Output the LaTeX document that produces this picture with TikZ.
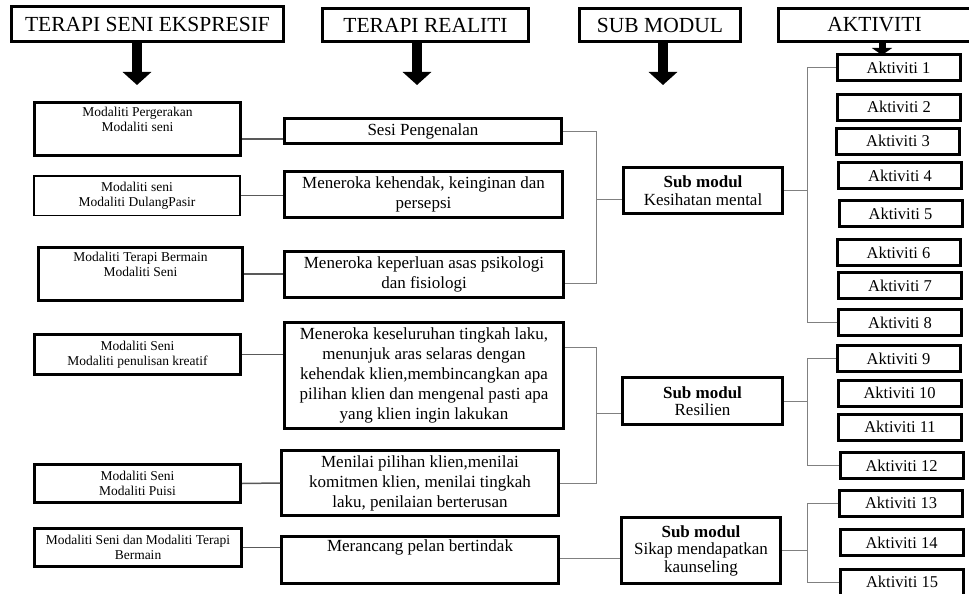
\documentclass[tikz,border=0pt]{standalone}
\usepackage{fontspec}
\setmainfont{Liberation Serif}
\usetikzlibrary{arrows.meta, positioning}
\tikzstyle{header} = [rectangle, draw=black, line width=3pt, inner sep=0pt, text centered, font=\fontsize{21.5}{24}\selectfont]
\tikzstyle{modality} = [rectangle, draw=black, line width=3pt, inner sep=2pt, align=center, minimum width=206pt, font=\fontsize{13.5}{15}\selectfont]
\tikzstyle{session} = [rectangle, draw=black, line width=3pt, inner sep=2pt, align=center, minimum width=278pt, font=\fontsize{17}{20}\selectfont]
\tikzstyle{submodule} = [rectangle, draw=black, line width=3pt, inner sep=2pt, align=center, minimum width=159pt, font=\fontsize{17}{17.5}\selectfont]
\tikzstyle{activity} = [rectangle, draw=black, line width=3pt, inner sep=0pt, minimum width=123pt, minimum height=26pt, font=\fontsize{16.5}{18}\selectfont]
\tikzstyle{bigarrow} = [line width=10pt, -{Triangle[width=28pt, length=13pt]}]
\tikzstyle{smallarrow} = [line width=7pt, -{Triangle[width=20pt, length=7pt]}]
\tikzstyle{feed} = [draw=black!65, line width=1.5pt]
\tikzstyle{branch} = [draw=black!50, line width=1pt]

\begin{document}
\begin{tikzpicture}[x=1pt, y=-1pt]
\useasboundingbox (0,0) rectangle (969,594);

% Headers
\node[header, minimum width=272pt, minimum height=35pt] (hdrA) at (147.5,24) {TERAPI SENI EKSPRESIF};
\node[header, minimum width=206pt, minimum height=33pt] (hdrB) at (425.5,25) {TERAPI REALITI};
\node[header, minimum width=161pt, minimum height=33pt] (hdrC) at (660,25) {SUB MODUL};
\node[header, minimum width=192pt, minimum height=33pt] (hdrD) at (874.5,25) {AKTIVITI};
\coordinate (tipA) at (137,85);
\coordinate (tipB) at (417,85);
\coordinate (tipC) at (663,85);
\coordinate (tipD) at (882,55);

% Modaliti
\node[modality, minimum height=53pt] (mod1) at (137.5,129) {Modaliti Pergerakan\\Modaliti seni\\ \strut};
\node[modality, minimum height=39.5pt, line width=1.5pt] (mod2) at (137,195.5) {Modaliti seni\\Modaliti DulangPasir};
\node[modality, minimum height=53pt, minimum width=204pt] (mod3) at (140.5,274) {Modaliti Terapi Bermain\\Modaliti Seni\\ \strut};
\node[modality, minimum height=40pt] (mod4) at (137.5,354.5) {Modaliti Seni\\Modaliti penulisan kreatif};
\node[modality, minimum height=38pt] (mod5) at (137.5,483.5) {Modaliti Seni\\Modaliti Puisi};
\node[modality, minimum height=38pt, minimum width=207pt] (mod6) at (138,547.5) {Modaliti Seni dan Modaliti Terapi\\Bermain};

% Sesi
\node[session, minimum height=25pt, minimum width=277pt] (ses1) at (423,131) {Sesi Pengenalan};
\node[session, minimum height=46pt] (ses2) at (423.5,194.5) {Meneroka kehendak, keinginan dan\\persepsi};
\node[session, minimum height=46pt, minimum width=279pt] (ses3) at (424,274.5) {Meneroka keperluan asas psikologi\\dan fisiologi};
\node[session, minimum height=106pt, minimum width=279pt] (ses4) at (424,375.5) {Meneroka keseluruhan tingkah laku,\\menunjuk aras selaras dengan\\kehendak klien,membincangkan apa\\pilihan klien dan mengenal pasti apa\\yang klien ingin lakukan};
\node[session, minimum height=65pt, minimum width=277pt] (ses5) at (420,483) {Menilai pilihan klien,menilai\\komitmen klien, menilai tingkah\\laku, penilaian berterusan};
\node[session, minimum height=47pt, minimum width=277pt] (ses6) at (420,560) {Merancang pelan bertindak\\[2pt]\strut};

% Sub modul
\node[submodule, minimum height=46pt] (sub1) at (703,190.5) {\textbf{Sub modul}\\Kesihatan mental};
\node[submodule, minimum height=47pt, minimum width=160pt] (sub2) at (702.5,401) {\textbf{Sub modul}\\Resilien};
\node[submodule, minimum height=66pt] (sub3) at (701,550.5) {\textbf{Sub modul}\\Sikap mendapatkan\\kaunseling};
\coordinate (jA) at (596,199);
\coordinate (jB) at (596,413);
\coordinate (jC) at (807,190.5);
\coordinate (jD) at (807,401);
\coordinate (jE) at (807,550);

% Aktiviti
\node[activity] (act1) at (898.5,67.5) {Aktiviti 1};
\node[activity] (act2) at (899,107) {Aktiviti 2};
\node[activity] (act3) at (898,141) {Aktiviti 3};
\node[activity] (act4) at (900,175.5) {Aktiviti 4};
\node[activity] (act5) at (900.5,213.5) {Aktiviti 5};
\node[activity] (act6) at (898.5,252.5) {Aktiviti 6};
\node[activity] (act7) at (900,285.5) {Aktiviti 7};
\node[activity] (act8) at (900,322.5) {Aktiviti 8};
\node[activity] (act9) at (898.5,358.5) {Aktiviti 9};
\node[activity] (act10) at (899.5,393) {Aktiviti 10};
\node[activity] (act11) at (900,427) {Aktiviti 11};
\node[activity] (act12) at (901.5,465.5) {Aktiviti 12};
\node[activity] (act13) at (901,503) {Aktiviti 13};
\node[activity] (act14) at (901.5,542.5) {Aktiviti 14};
\node[activity] (act15) at (902,582) {Aktiviti 15};

% Arrows
\draw[bigarrow] (hdrA.south -| tipA) -- (tipA);
\draw[bigarrow] (hdrB.south -| tipB) -- (tipB);
\draw[bigarrow] (hdrC.south -| tipC) -- (tipC);
\draw[smallarrow] (hdrD.south -| tipD) -- (tipD);

% Lines
\draw[feed] ([yshift=-10pt]mod1.east) -- ([yshift=-10pt]mod1.east -| ses1.west);
\draw[feed] (mod2.east) -- (mod2.east -| ses2.west);
\draw[feed] (mod3.east) -- (mod3.east -| ses3.west);
\draw[feed] (mod4.east) -- (mod4.east -| ses4.west);
\draw[feed] (mod5.east) -- (ses5.west);
\draw[feed] (mod6.east) -- (mod6.east -| ses6.west);

\draw[branch] (ses1.east) -| (jA);
\draw[branch] ([yshift=-8.5pt]ses3.east) -| (jA);
\draw[branch] (jA) -- (jA -| sub1.west);
\draw[branch] ([yshift=28.5pt]ses4.east) -| (jB);
\draw[branch] (ses5.east) -| (jB);
\draw[branch] (jB) -- (jB -| sub2.west);
\draw[branch] ([yshift=2pt]ses6.east) -- ([yshift=2pt]ses6.east -| sub3.west);

\draw[branch] (sub1.east) -- (jC);
\draw[branch] (act1.west) -| (jC);
\draw[branch] (act8.west) -| (jC);
\draw[branch] (sub2.east) -- (jD);
\draw[branch] (act9.west) -| (jD);
\draw[branch] (act12.west) -| (jD);
\draw[branch] (sub3.east |- jE) -- (jE);
\draw[branch] (act13.west) -| (jE);
\draw[branch] (act15.west) -| (jE);

\end{tikzpicture}
\end{document}
